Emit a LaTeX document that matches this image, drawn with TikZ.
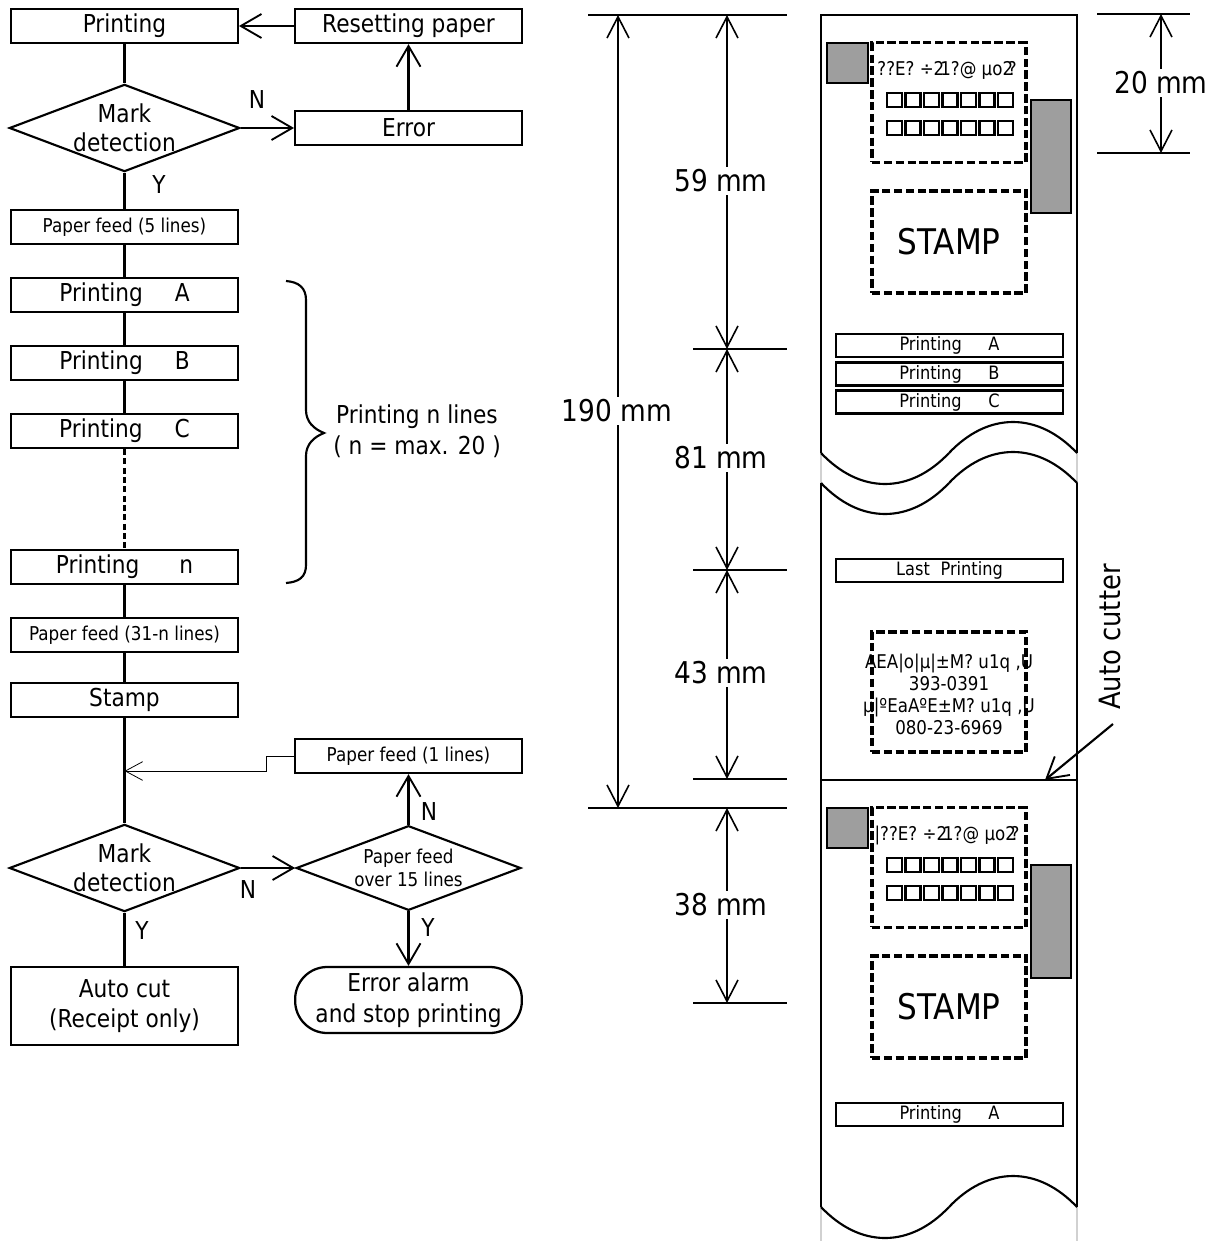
\documentclass[tikz,border=0pt]{standalone}
\usepackage{fontspec}
\setmainfont{DejaVu Sans}[FakeStretch=0.88]
\usetikzlibrary{arrows.meta,shapes.geometric,calc}
\definecolor{graybox}{gray}{0.62}
\tikzset{
 x=0.75pt,y=-0.75pt,
 ln/.style={line width=1.7pt,draw=black},
 barb/.style={-{Straight Barb[length=15.5pt,width=18pt,line width=1.4pt]},line width=1.6pt},
 dimtip/.style={{Straight Barb[length=16pt,width=16.5pt,line width=1.2pt]}-{Straight Barb[length=16pt,width=16.5pt,line width=1.2pt]},line width=1.5pt},
 boxa/.style={draw,line width=1.7pt,minimum width=170pt,inner sep=0pt,font=\fontsize{18.5}{20}\selectfont,align=center},
 boxs/.style={boxa,font=\fontsize{14.3}{16}\selectfont},
 dia/.style={diamond,draw,line width=1.6pt,aspect=2.64,inner sep=0pt,minimum width=168.5pt,minimum height=63.5pt,align=center,font=\fontsize{18.5}{22}\selectfont},
 barbox/.style={draw,line width=1.8pt,minimum width=170pt,minimum height=17pt,inner sep=0pt,font=\fontsize{13.8}{14}\selectfont},
 dashbox/.style={draw,dashed,line width=2.3pt,dash pattern=on 6.3pt off 2.6pt,minimum width=115.5pt,inner sep=0pt,align=center},
 gbox/.style={draw,fill=graybox,line width=1.7pt,inner sep=0pt},
 sq/.style={draw,line width=1.9pt,minimum width=11pt,minimum height=10.5pt,inner sep=0pt},
 lab/.style={font=\fontsize{18.5}{20}\selectfont,inner sep=0pt},
 dimlab/.style={font=\fontsize{22.5}{24}\selectfont,fill=white,inner sep=2pt},
 txt/.style={font=\fontsize{14.2}{16.5}\selectfont,align=center,inner sep=0pt},
 paleedge/.style={draw=black!18,line width=1pt}
}
\newcommand{\ticketA}[2]{%
 \node[gbox,minimum width=30.5pt,minimum height=30pt] (gs#1) at (847.5,#2+63) {};
 \node[dashbox,minimum height=89.5pt] (hd#1) at (949,#2+102.5) {};
 \node[gbox,minimum width=30pt,minimum height=85pt] (gt#1) at (1051,#2+156.5) {};
 \node[dashbox,minimum height=76.5pt] (st#1) at (949,#2+242) {\fontsize{26.5}{30}\selectfont\raisebox{1.5pt}{STAMP}};
 \foreach \i in {0,...,6}{
   \node[sq] (a#1\i) at (894.5+\i*18.5,#2+100) {};
   \node[sq] (b#1\i) at (894.5+\i*18.5,#2+128) {};
 }
}
\begin{document}
\begin{tikzpicture}
\useasboundingbox (0,0) rectangle (1225,1241);
% flow chart left
\node[boxa,minimum height=25.5pt] (p0) at (124.5,26) {Printing};
\node[boxa,minimum height=25.5pt] (rp) at (408.5,26) {Resetting paper};
\node[dia] (m1) at (124.5,128) {Mark\\detection};
\node[boxa,minimum height=25.5pt] (er) at (408.5,128) {\raisebox{1pt}{Error}};
\node[boxs,minimum height=25.5pt] (pf5) at (124.5,227) {Paper feed (5 lines)};
\node[boxa,minimum height=25.5pt] (pa) at (124.5,295) {Printing\hspace{24pt}A};
\node[boxa,minimum height=25.5pt] (pb) at (124.5,363) {Printing\hspace{24pt}B};
\node[boxa,minimum height=25.5pt] (pc) at (124.5,431) {Printing\hspace{24pt}C};
\node[boxa,minimum height=25.5pt] (pn) at (124.5,567) {Printing\hspace{30pt}n};
\node[boxs,minimum height=25.5pt] (pf31) at (124.5,635) {Paper feed (31-n lines)};
\node[boxa,minimum height=25.5pt] (stp) at (124.5,700) {Stamp};
\node[boxs,minimum height=25.5pt] (pf1) at (408.5,756) {Paper feed (1 lines)};
\node[dia] (m2) at (124.5,868) {Mark\\detection};
\node[dia,font=\fontsize{14.3}{17}\selectfont] (d15) at (408.5,868) {Paper feed\\over 15 lines};
\node[boxa,minimum height=58.5pt,font=\fontsize{18.5}{23}\selectfont] (ac) at (124.5,1006) {Auto cut\\(Receipt only)};
\node[boxa,minimum height=49.5pt,rounded corners=24pt,font=\fontsize{18.5}{23}\selectfont] (ea) at (408.5,1000) {Error alarm\\and stop printing};
\coordinate (j2) at (266,771);
\coordinate (j3) at (124.5,771);
\draw[ln] (p0) -- (m1);
\draw[barb] (m1) -- (er);
\draw[barb] (er) -- (rp);
\draw[barb] (rp) -- (p0);
\draw[ln] (m1) -- (pf5);
\draw[ln] (pf5) -- (pa);
\draw[ln] (pa) -- (pb);
\draw[ln] (pb) -- (pc);
\draw[line width=1.9pt,dashed,dash pattern=on 4.5pt off 2.5pt] (pc) -- (pn);
\draw[ln] (pn) -- (pf31);
\draw[ln] (pf31) -- (stp);
\draw[ln] (stp) -- (m2);
\draw[ln] (m2) -- (ac);
\draw[barb] (m2) -- (d15);
\draw[barb] (d15) -- (pf1);
\draw[barb] (d15) -- (ea);
\draw[line width=.6pt,-{Straight Barb[length=13pt,width=14pt,line width=.6pt]}] (pf1.west) -| (j2) -- (j3);
\node[lab] (ln1) at (257,100) {N};
\node[lab] (ly1) at (159,185) {Y};
\node[lab] (ln2) at (248,889) {N};
\node[lab] (ly2) at (142,930) {Y};
\node[lab] (ln3) at (429,811) {N};
\node[lab] (ly3) at (428,927) {Y};
% brace
\coordinate (bt) at (286,281);
\coordinate (bb) at (286,583);
\coordinate (bm) at (324,433);
\draw[line width=1.6pt] (bt) .. controls (299,282) and (306,288) .. (306,300) -- (306,410) .. controls (306,422) and (314,429) .. (bm) .. controls (314,437) and (306,444) .. (306,456) -- (306,565) .. controls (306,577) and (299,582) .. (bb);
\node[lab,align=center,font=\fontsize{18.5}{23}\selectfont] (pnl) at (417,431) {Printing n lines\\( n = max. 20 )};
% ticket outline
\coordinate (tl) at (821,15);
\coordinate (tr) at (1077,15);
\draw[line width=1.8pt] (821,453) -- (tl) -- (tr) -- (1077,453);
\draw[line width=1.8pt] (821,483) -- (821,1207);
\draw[line width=1.8pt] (1077,483) -- (1077,1207);
\draw[paleedge] (821,453) -- (821,483);
\draw[paleedge] (1077,453) -- (1077,483);
\draw[paleedge] (821,1207) -- (821,1241);
\draw[paleedge] (1077,1207) -- (1077,1241);
\foreach \y in {453,483,1207}{
 \draw[line width=1.6pt] (821,\y) .. controls (840,\y+20) and (862,\y+31) .. (885,\y+31) .. controls (908,\y+31) and (930,\y+20) .. (949,\y);
 \draw[line width=1.6pt] (949,\y) .. controls (968,\y-20) and (990,\y-31) .. (1013,\y-31) .. controls (1036,\y-31) and (1058,\y-20) .. (1077,\y);
}
\ticketA{x}{0}
\ticketA{y}{765}
\node[txt] (hdx) at (947,70) {??E? ÷2\hspace{-3pt}1?@ µo2\hspace{-4pt}?};
\node[txt] (hdy) at (947,835) {|??E? ÷2\hspace{-3pt}1?@ µo2\hspace{-4pt}?};
\node[barbox] (ba) at (949.5,345.5) {Printing\hspace{20pt}A};
\node[barbox] (bb2) at (949.5,374) {Printing\hspace{20pt}B};
\node[barbox] (bc) at (949.5,402) {Printing\hspace{20pt}C};
\node[barbox] (bl) at (949.5,570.5) {Last\hspace{8pt}Printing};
\node[barbox] (ba2) at (949.5,1114.5) {Printing\hspace{20pt}A};
\node[dashbox,minimum height=90pt] (ad) at (949,692) {};
\node[txt] (adt) at (949,694.5) {AEA|o|µ|±M? u1q ,U\\393-0391\\µ|ºEaAºE±M? u1q ,U\\080-23-6969};
\coordinate (cl) at (821,780);
\coordinate (cr) at (1077,780);
\draw[line width=1.8pt] (cl) -- (cr);
\coordinate (cp) at (1045,780);
\node[rotate=90,font=\fontsize{22}{24}\selectfont,inner sep=0pt] (acu) at (1110,637) {Auto cutter};
\coordinate (cs) at (1113,724);
\draw[barb] (cs) -- (cp);
% dimension lines
\foreach \n/\xa/\xb/\y in {h1/588/787/15,h2/693/787/349,h3/693/787/570,h4/693/787/779,h5/588/787/808,h6/693/787/1003,h7/1097/1190/14,h8/1097/1190/153}{
 \draw[line width=1.8pt] (\xa,\y) coordinate (\n a) -- (\xb,\y) coordinate (\n b);
}
\coordinate (v190a) at (618,15); \coordinate (v190b) at (618,808);
\coordinate (v59a) at (727,15); \coordinate (v59b) at (727,349);
\coordinate (v81a) at (727,349); \coordinate (v81b) at (727,570);
\coordinate (v43a) at (727,570); \coordinate (v43b) at (727,779);
\coordinate (v38a) at (727,808); \coordinate (v38b) at (727,1003);
\coordinate (v20a) at (1161,14); \coordinate (v20b) at (1161,153);
\draw[dimtip] (v190a) -- (v190b);
\draw[dimtip] (v59a) -- (v59b);
\draw[dimtip] (v81a) -- (v81b);
\draw[dimtip] (v43a) -- (v43b);
\draw[dimtip] (v38a) -- (v38b);
\draw[dimtip] (v20a) -- (v20b);
\node[dimlab] (l190) at (617,411) {190 mm};
\node[dimlab] (l59) at (721,181) {59 mm};
\node[dimlab] (l81) at (721,458) {81 mm};
\node[dimlab] (l43) at (721,673) {43 mm};
\node[dimlab] (l38) at (721,905) {38 mm};
\node[dimlab] (l20) at (1161,83) {20 mm};
\end{tikzpicture}
\end{document}
